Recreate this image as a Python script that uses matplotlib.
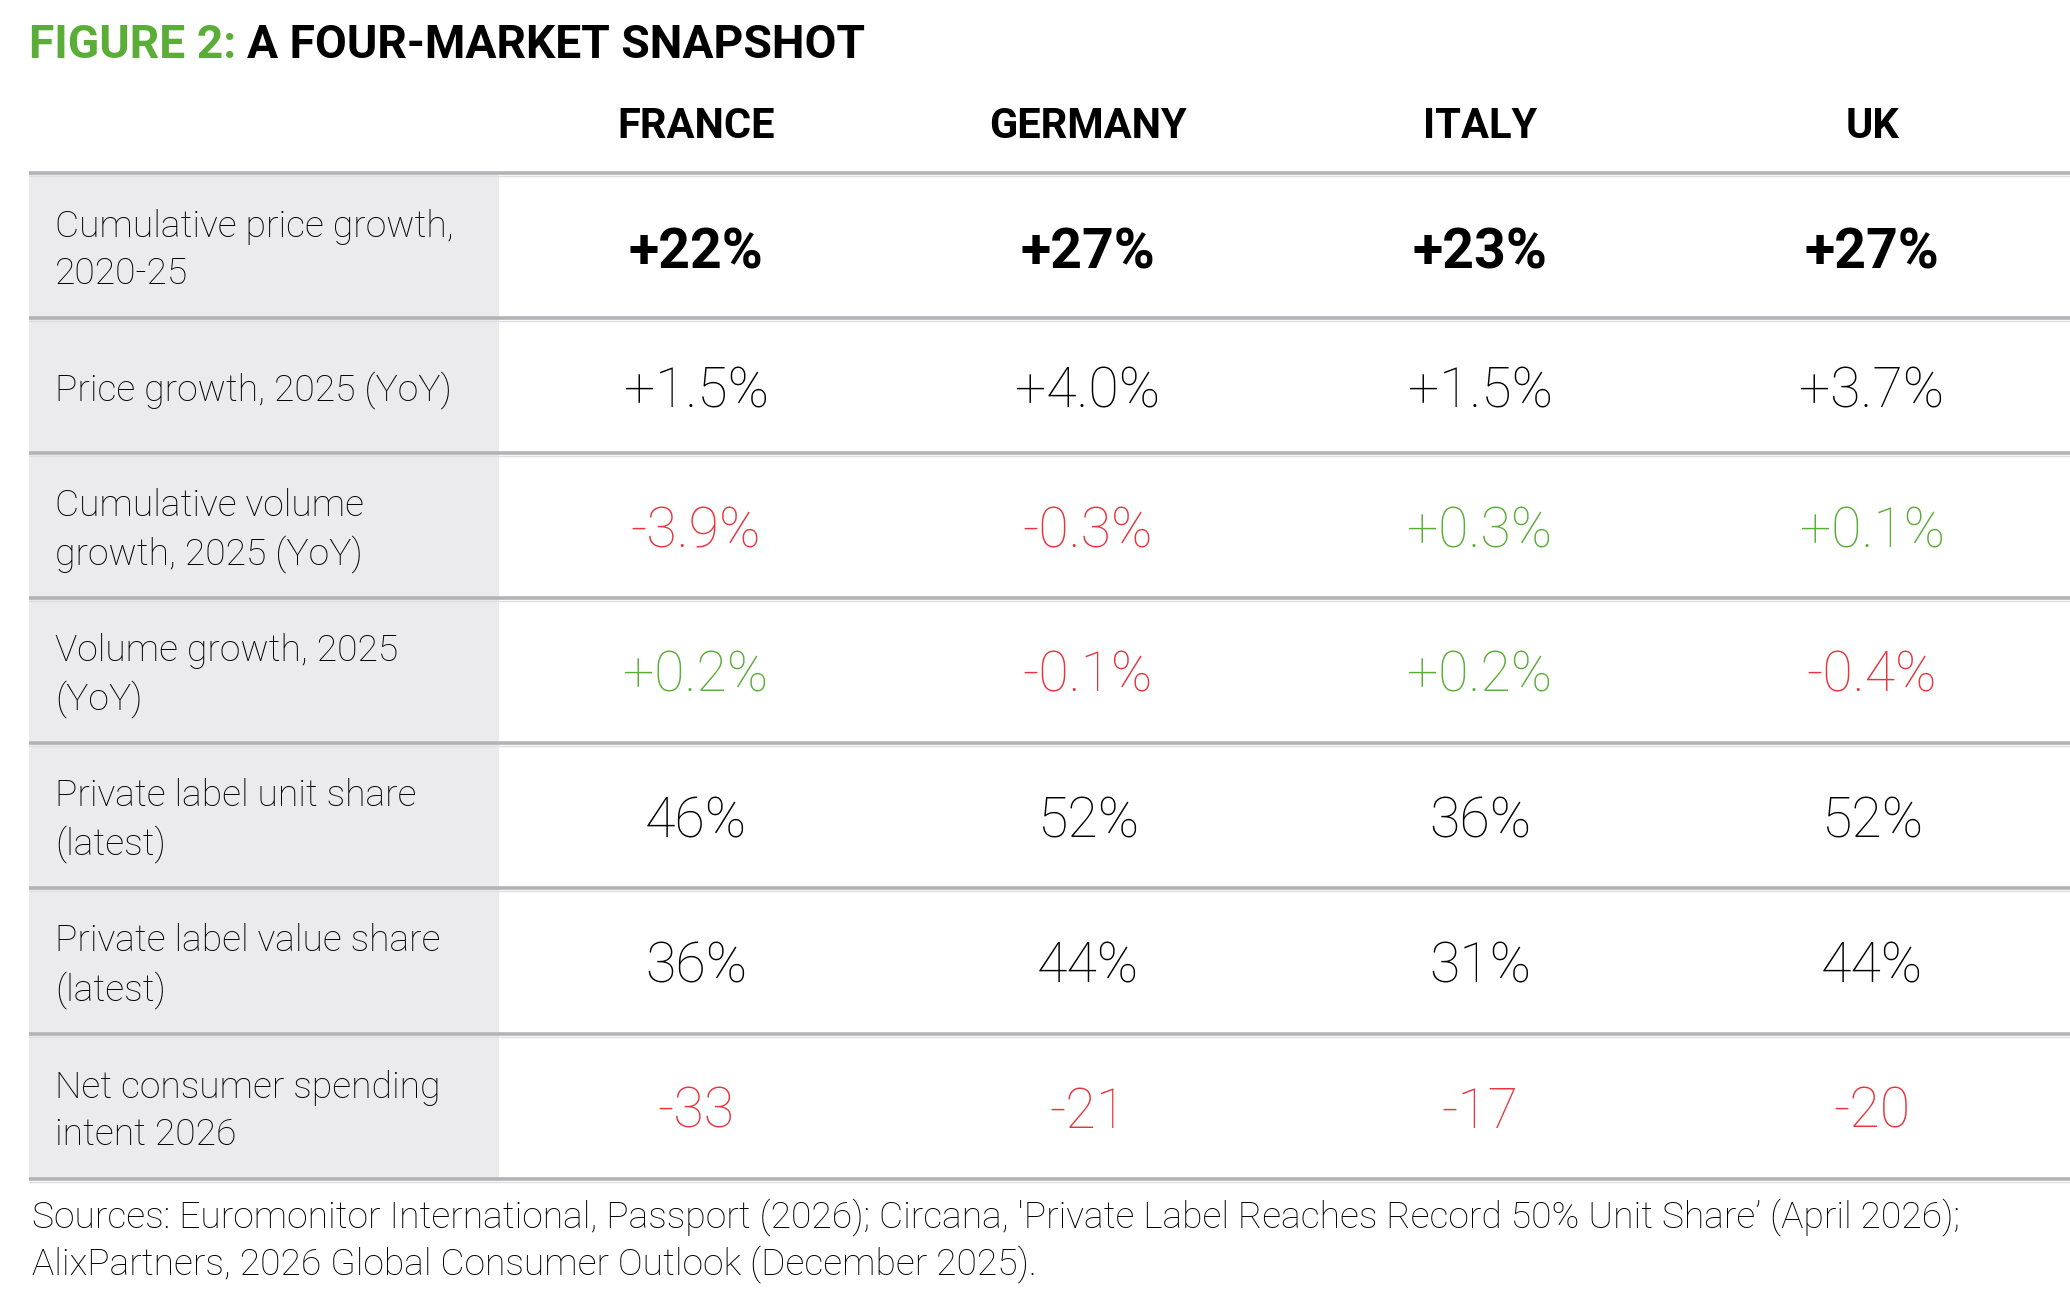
import matplotlib.pyplot as plt

# Table content
markets = ['FRANCE', 'GERMANY', 'ITALY', 'UK']
row_labels = ['Cumulative price growth,\n2020-25',
              'Price growth, 2025 (YoY)',
              'Cumulative volume\ngrowth, 2025 (YoY)',
              'Volume growth, 2025\n(YoY)',
              'Private label unit share\n(latest)',
              'Private label value share\n(latest)',
              'Net consumer spending\nintent 2026']
cum_price_growth = [22, 27, 23, 27]
price_growth_2025 = [1.5, 4.0, 1.5, 3.7]
cum_volume_growth = [-3.9, -0.3, 0.3, 0.1]
volume_growth_2025 = [0.2, -0.1, 0.2, -0.4]
pl_unit_share = [46, 52, 36, 52]
pl_value_share = [36, 44, 31, 44]
spending_intent = [-33, -21, -17, -20]

rows = [(cum_price_growth, '{:+.0f}%'),
        (price_growth_2025, '{:+.1f}%'),
        (cum_volume_growth, '{:+.1f}%'),
        (volume_growth_2025, '{:+.1f}%'),
        (pl_unit_share, '{:.0f}%'),
        (pl_value_share, '{:.0f}%'),
        (spending_intent, '{:.0f}')]
sign_colored = [False, False, True, True, False, False, True]

sources = ("Sources: Euromonitor International, Passport (2026); Circana, 'Private Label Reaches "
           "Record 50% Unit Share\u2019 (April 2026);\nAlixPartners, 2026 Global Consumer Outlook "
           "(December 2025).")

GREEN = '#5aad36'
RED = '#e8353d'
LINE = '#b3b3b5'
FILL = '#ebebed'
FONT = 'Roboto'

fig = plt.figure(figsize=(20.7, 13.1), dpi=100)
ax = fig.add_axes([0, 0, 1, 1])
ax.set_xlim(0, 2070)
ax.set_ylim(1310, 0)
ax.axis('off')

# layout (pixels)
left, label_right, right = 29, 499, 2070
col_x = [696, 1088, 1480, 1872]
row_edges = [173, 318, 453, 598, 743, 888, 1034, 1179]

# title
t1 = ax.text(29, 58, 'FIGURE 2:', color=GREEN, fontsize=33.3, fontweight='bold',
             family=FONT, va='baseline')
fig.canvas.draw()
bb = t1.get_window_extent()
ax.text(bb.x1 + 11, 58, 'A FOUR-MARKET SNAPSHOT', color='black', fontsize=33.3,
        fontweight='bold', family=FONT, va='baseline')

# column headers
for x, m in zip(col_x, markets):
    ax.text(x, 138, m, ha='center', va='baseline', fontsize=30, fontweight='bold',
            family=FONT, color='black')

# label column background
for i in range(len(row_labels)):
    ax.fill_between([left, label_right], row_edges[i], row_edges[i + 1],
                    color=FILL, lw=0, zorder=0)

# horizontal rules
for y in row_edges:
    ax.plot([left, right], [y, y], color=LINE, lw=2.6, solid_capstyle='butt', zorder=2)
    ax.plot([left, right], [y + 3, y + 3], color='#dedee0', lw=1.0, solid_capstyle='butt', zorder=1)

# rows
for i, (label, (vals, fmt)) in enumerate(zip(row_labels, rows)):
    yc = (row_edges[i] + row_edges[i + 1]) / 2
    ax.text(55, yc + 5, label, ha='left', va='center', fontsize=26.8, fontweight='light',
            family=FONT, color='black', linespacing=1.4)
    for x, v in zip(col_x, vals):
        if sign_colored[i]:
            c = GREEN if v > 0 else RED
        else:
            c = 'black'
        ax.text(x, yc + (8 if i == 0 else 6), fmt.format(v), ha='center', va='center',
                fontsize=40, fontweight='bold' if i == 0 else 'light', family=FONT, color=c)

# sources
ax.text(32, 1198, sources, ha='left', va='top', fontsize=26.8, fontweight='light',
        family=FONT, color='black', linespacing=1.32)

fig.savefig('out.png', dpi=100)
